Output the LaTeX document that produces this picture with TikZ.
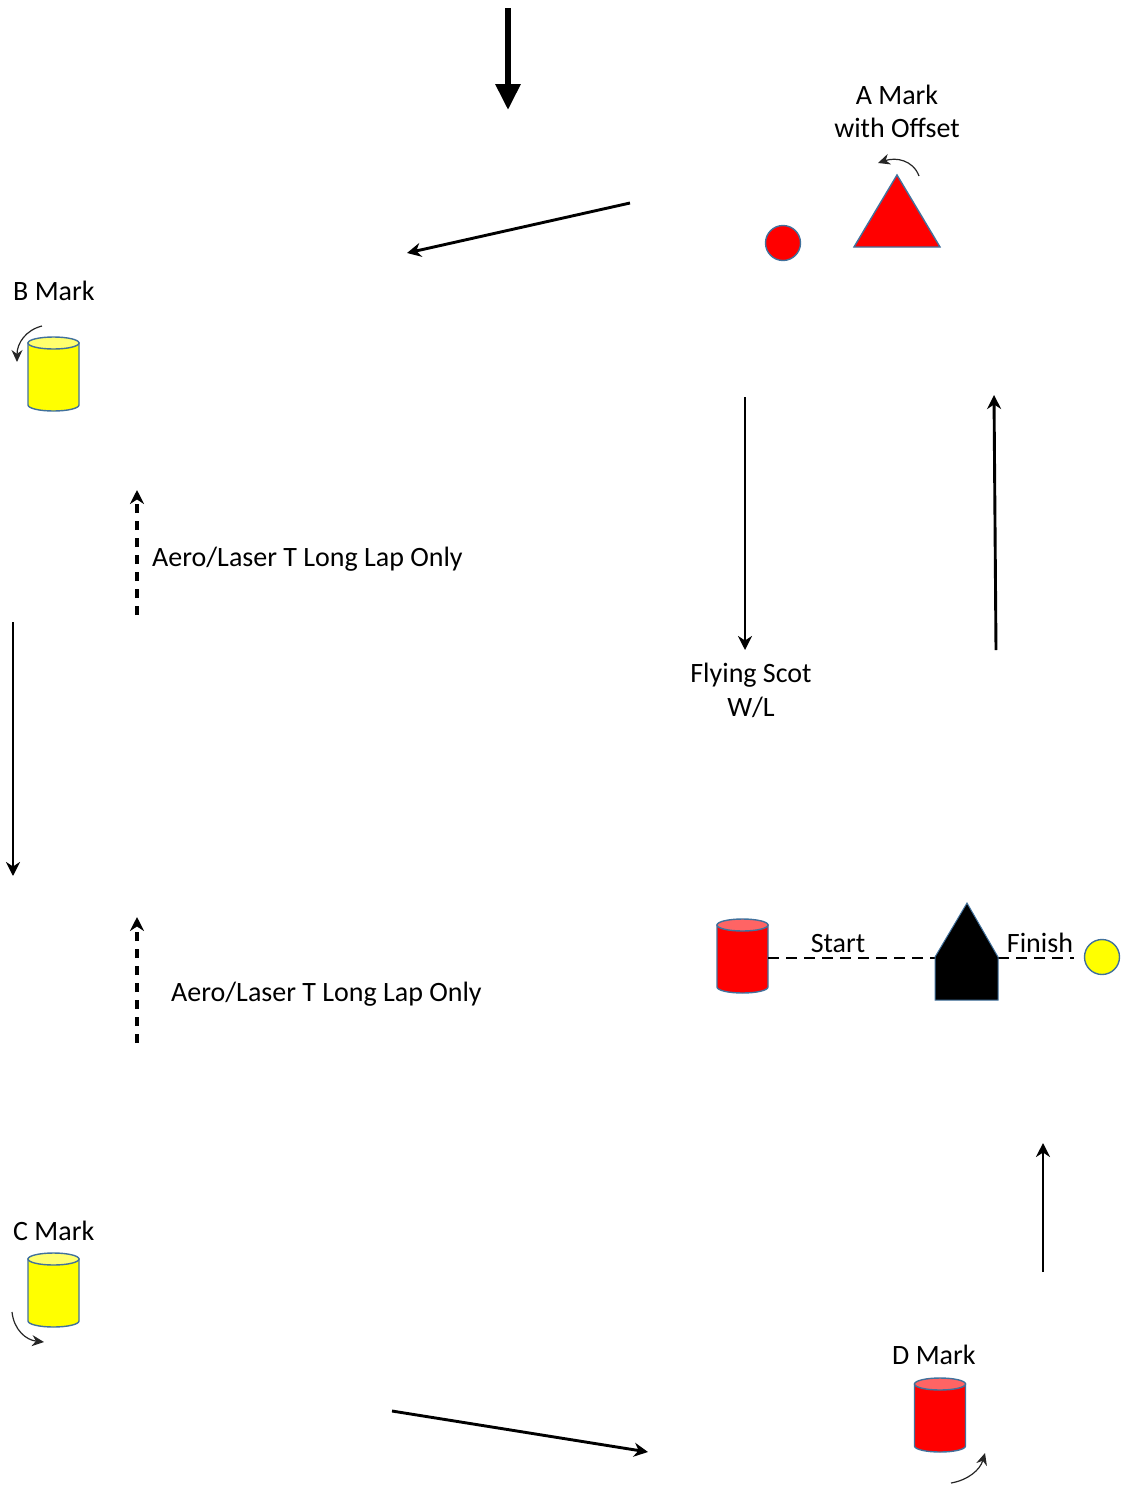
\documentclass[tikz,border=0pt]{standalone}
\usepackage{fontspec}
\setmainfont{Carlito}
\usetikzlibrary{arrows.meta}
\definecolor{mkred}{RGB}{255,0,0}
\definecolor{mkredtop}{RGB}{255,100,100}
\definecolor{mkyel}{RGB}{255,255,0}
\definecolor{mkyeltop}{RGB}{255,255,110}
\definecolor{mkedge}{RGB}{65,113,156}
\newcommand\mycyl[6]{%
  \filldraw[mkline, fill=#5] ({#1-#4},#2) -- ({#1-#4},#3) arc[start angle=180,end angle=360,x radius=#4pt,y radius=6pt] -- ({#1+#4},#2) -- cycle;
  \filldraw[mkline, fill=#6] (#1,#2) ellipse[x radius=#4pt, y radius=6pt];
}
\begin{document}
\begin{tikzpicture}[x=1pt,y=-1pt,
  mkline/.style={draw=mkedge, line width=1.4pt},
  course/.style={line width=2.9pt, -{Stealth[length=14pt,width=14pt,inset=4.5pt]}},
  dashcourse/.style={line width=3.1pt, dash pattern=on 9pt off 8pt, -{Stealth[length=14pt,width=14pt,inset=4.5pt]}},
  turn/.style={line width=1.2pt, draw=black!85, -{Stealth[length=12pt,width=11pt]}},
  lbl/.style={font=\fontsize{28}{33}\selectfont, inner sep=0pt},
  sfline/.style={line width=2.8pt, dash pattern=on 11pt off 7pt}]
\useasboundingbox (0,0) rectangle (1130,1486);
% wind arrow
\coordinate (w1) at (508,8); \coordinate (w2) at (508,110);
\draw[line width=6pt, -{Triangle[length=26pt,width=24pt]}] (w1) -- (w2);
% course arrows
\coordinate (a1) at (630,203); \coordinate (a2) at (407,253);
\draw[course] (a1) -- (a2);
\coordinate (b1) at (13,622); \coordinate (b2) at (13,876);
\draw[course] (b1) -- (b2);
\coordinate (c1) at (392,1411); \coordinate (c2) at (648,1452);
\draw[course] (c1) -- (c2);
\coordinate (d1) at (1043,1272); \coordinate (d2) at (1043,1143);
\draw[course] (d1) -- (d2);
\coordinate (f1) at (745,397); \coordinate (f2) at (745,650);
\draw[course] (f1) -- (f2);
\coordinate (g1) at (996,650); \coordinate (g2) at (994,395);
\draw[course] (g1) -- (g2);
\coordinate (h1) at (137,615); \coordinate (h2) at (137,490);
\draw[dashcourse] (h1) -- (h2);
\coordinate (k1) at (137,1043); \coordinate (k2) at (137,917);
\draw[dashcourse] (k1) -- (k2);
% A mark
\filldraw[mkline, fill=mkred] (783,243) circle[radius=17.5pt];
\filldraw[mkline, fill=mkred] (897,175) -- (940,247) -- (854,247) -- cycle;
\node[lbl, anchor=base] (amk) at (897,104) {A Mark};
\node[lbl, anchor=base] (aoff) at (897,137) {with Offset};
\coordinate (at1) at (919,176); \coordinate (at2) at (878,163);
\draw[turn] (at1) .. controls (913,160) and (896,157) .. (at2);
% B mark
\node[lbl, anchor=base west] (bmk) at (13,300) {B Mark};
\mycyl{53.5}{343}{405}{25.5}{mkyel}{mkyeltop}
\coordinate (bt1) at (42,326); \coordinate (bt2) at (17,362);
\draw[turn] (bt1) .. controls (26,330) and (17,343) .. (bt2);
% C mark
\node[lbl, anchor=base west] (cmk) at (13,1240) {C Mark};
\mycyl{53.5}{1259}{1321}{25.5}{mkyel}{mkyeltop}
\coordinate (ct1) at (12,1312); \coordinate (ct2) at (44,1342);
\draw[turn] (ct1) .. controls (14,1330) and (26,1340) .. (ct2);
% D mark
\node[lbl, anchor=base west] (dmk) at (892,1364) {D Mark};
\mycyl{940}{1384}{1446}{25.5}{mkred}{mkredtop}
\coordinate (dt1) at (951,1483); \coordinate (dt2) at (985,1453);
\draw[turn] (dt1) .. controls (968,1480) and (980,1470) .. (dt2);
% labels
\node[lbl, anchor=base west] (ae1) at (152,566) {Aero/Laser T Long Lap Only};
\node[lbl, anchor=base west] (ae2) at (171,1001) {Aero/Laser T Long Lap Only};
\node[lbl, anchor=base] (fs1) at (751,682) {Flying Scot};
\node[lbl, anchor=base] (fs2) at (751,716) {W/L};
% start / finish
\mycyl{742.5}{925}{987}{25.5}{mkred}{mkredtop}
\coordinate (s1) at (768,958); \coordinate (s2) at (935,958);
\draw[sfline] (s1) -- (s2);
\coordinate (s3) at (998,958); \coordinate (s4) at (1074,958);
\draw[sfline] (s3) -- (s4);
\filldraw[draw=mkedge, line width=1pt, fill=black] (935,1000) -- (935,957) -- (967,903) -- (998,957) -- (998,1000) -- cycle;
\filldraw[mkline, fill=mkyel] (1102,957) circle[radius=17.5pt];
\node[lbl, anchor=base] (st) at (838,952) {Start};
\node[lbl, anchor=base] (fi) at (1040,952) {Finish};
\end{tikzpicture}
\end{document}
